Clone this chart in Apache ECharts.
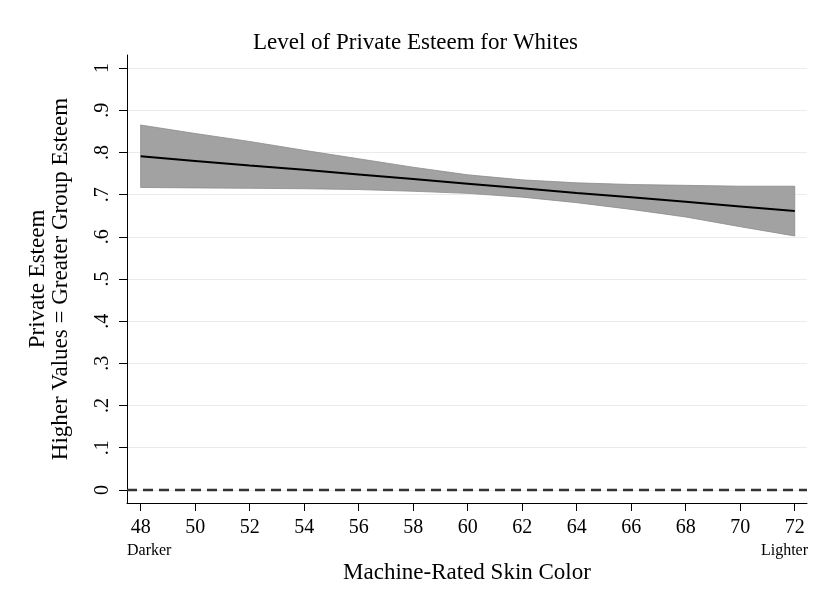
<!DOCTYPE html>
<html>
<head>
<meta charset="utf-8">
<script src="https://cdn.jsdelivr.net/npm/echarts@6/dist/echarts.min.js"></script>
<style>html,body{margin:0;padding:0;background:#fff}#c{width:831px;height:605px}</style>
</head>
<body>
<div id="c"></div>
<script>
const skinColor = [48, 50, 52, 54, 56, 58, 60, 62, 64, 66, 68, 70, 72];
const fitted = [0.791, 0.780, 0.769, 0.759, 0.748, 0.737, 0.726, 0.715, 0.704, 0.694, 0.683, 0.672, 0.661];
const upperCI = [0.865, 0.845, 0.826, 0.805, 0.785, 0.765, 0.747, 0.735, 0.728, 0.724, 0.722, 0.720, 0.720];
const lowerCI = [0.717, 0.716, 0.715, 0.714, 0.712, 0.708, 0.703, 0.694, 0.681, 0.665, 0.647, 0.624, 0.602];
const yTicks = [0, 0.1, 0.2, 0.3, 0.4, 0.5, 0.6, 0.7, 0.8, 0.9, 1];
const xTicks = [48, 50, 52, 54, 56, 58, 60, 62, 64, 66, 68, 70, 72];

const FONT = '"Liberation Serif", "Times New Roman", serif';
const chart = echarts.init(document.getElementById('c'), null, {renderer: 'canvas'});

const bandRows = skinColor.map((x, i) => [x, lowerCI[i], upperCI[i]]);
const fitData = skinColor.map((x, i) => [x, fitted[i]]);

function renderBand(params, api) {
  if (params.dataIndex !== 0) return null;
  const top = bandRows.map(r => api.coord([r[0], r[2]]));
  const bottom = bandRows.map(r => api.coord([r[0], r[1]])).reverse();
  return {
    type: 'polygon',
    shape: {points: top.concat(bottom)},
    style: {fill: '#a2a2a2', stroke: '#8c8c8c', lineWidth: 0.8}
  };
}

const option = {
  animation: false,
  backgroundColor: '#fff',
  title: {
    text: 'Level of Private Esteem for Whites',
    left: 'center',
    top: 31,
    padding: 0,
    textStyle: {fontFamily: FONT, fontSize: 23, fontWeight: 'normal', color: '#000'}
  },
  grid: {left: 127, right: 24, top: 55, bottom: 102, containLabel: false},
  xAxis: {
    type: 'value',
    min: 47.5,
    max: 72.45,
    name: 'Machine-Rated Skin Color',
    nameLocation: 'middle',
    nameGap: 58,
    nameTextStyle: {fontFamily: FONT, fontSize: 23, color: '#000'},
    axisLine: {show: true, onZero: false, lineStyle: {color: '#000', width: 1}},
    axisTick: {show: true, customValues: xTicks, length: 8, lineStyle: {color: '#000'}},
    axisLabel: {customValues: xTicks, fontFamily: FONT, fontSize: 20, color: '#000', margin: 15},
    splitLine: {show: false}
  },
  yAxis: {
    type: 'value',
    min: -0.031,
    max: 1.031,
    name: 'Private Esteem\nHigher Values = Greater Group Esteem',
    nameLocation: 'middle',
    nameGap: 55,
    nameTextStyle: {fontFamily: FONT, fontSize: 23, color: '#000', lineHeight: 23},
    axisLine: {show: true, onZero: false, lineStyle: {color: '#000', width: 1}},
    axisTick: {show: true, customValues: yTicks, length: 8, lineStyle: {color: '#000'}},
    axisLabel: {
      customValues: yTicks, rotate: 90, fontFamily: FONT, fontSize: 20, color: '#000', margin: 14,
      formatter: v => (v === 0 ? '0' : v === 1 ? '1' : String(Math.round(v * 10) / 10).replace(/^0/, ''))
    },
    splitLine: {show: true, lineStyle: {color: '#ebebeb', width: 1.2}}
  },
  graphic: [
    {type: 'text', left: 127, top: 543, style: {text: 'Darker', font: '16px ' + FONT, fill: '#000'}},
    {type: 'text', right: 23, top: 543, style: {text: 'Lighter', font: '16px ' + FONT, fill: '#000'}}
  ],
  series: [
    {
      name: 'band', type: 'custom', data: bandRows, renderItem: renderBand,
      encode: {x: 0, y: [1, 2]}, silent: true, z: 2, clip: true,
      markLine: {
        silent: true, symbol: 'none', label: {show: false},
        lineStyle: {color: '#333', type: [10, 6], width: 2.4},
        data: [{yAxis: 0}]
      }
    },
    {
      name: 'fit', type: 'line', data: fitData, symbol: 'none',
      lineStyle: {width: 2, color: '#000'}, silent: true, z: 4
    }
  ]
};
chart.setOption(option);
</script>
</body>
</html>
